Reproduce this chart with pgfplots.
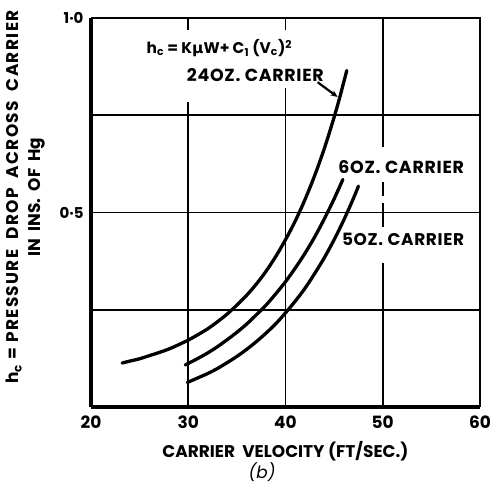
\documentclass[border=0pt]{standalone}
\usepackage{pgfplots}
\pgfplotsset{compat=1.18}
\usetikzlibrary{arrows.meta}
\usepackage{fontspec}
\setmainfont{Poppins}
\newfontfamily\dvs{DejaVu Sans}
\newfontfamily\lsf{Poppins}[LetterSpace=4]
\newfontfamily\lsfw{Poppins}[LetterSpace=8]

\pgfplotstableread{
V h
23.2 0.113
24.0 0.118
25.0 0.124
26.0 0.132
27.0 0.140
28.0 0.149
29.0 0.160
30.0 0.172
31.0 0.186
32.0 0.201
33.0 0.219
34.0 0.239
35.0 0.262
36.0 0.287
37.0 0.316
38.0 0.349
39.0 0.387
40.0 0.430
41.0 0.478
42.0 0.533
43.0 0.595
44.0 0.665
45.0 0.745
45.6 0.798
46.3 0.865
}\ozA

\pgfplotstableread{
V h
29.7 0.108
30.0 0.112
31.0 0.125
32.0 0.139
33.0 0.155
34.0 0.173
35.0 0.192
36.0 0.213
37.0 0.237
38.0 0.262
39.0 0.291
40.0 0.322
41.0 0.357
42.0 0.395
43.0 0.437
44.0 0.484
45.0 0.535
45.9 0.585
}\ozB

\pgfplotstableread{
V h
29.9 0.063
31.0 0.075
32.0 0.086
33.0 0.099
34.0 0.114
35.0 0.130
36.0 0.148
37.0 0.168
38.0 0.190
39.0 0.214
40.0 0.242
41.0 0.272
42.0 0.305
43.0 0.343
44.0 0.384
45.0 0.430
46.0 0.481
47.0 0.537
47.5 0.568
}\ozC

\begin{document}
\begin{tikzpicture}
\begin{axis}[
  name=ax, at={(0,0)}, anchor=south west,
  scale only axis, width=389bp, height=389bp,
  xmin=20, xmax=60, ymin=0, ymax=1,
  clip=false,
  axis line style={draw=none},
  tick style={draw=none},
  major tick length=0pt,
  xtick={20,30,40,50,60},
  xticklabels={20,30,40,50,60},
  ytick={0.5,1},
  yticklabels={0·5,1·0},
  /pgf/number format/assume math mode=true,
  xticklabel style={font=\bfseries\fontsize{17}{17}\selectfont, yshift=-5bp},
  yticklabel style={font=\bfseries\fontsize{15}{15}\selectfont, xshift=-4bp},
  xlabel={CARRIER\ \ VELOCITY\ (FT/SEC.)},
  xlabel style={font=\bfseries\fontsize{17}{17}\selectfont, at={([yshift=-44bp]rel axis cs:0.5,0)}, anchor=center},
  ylabel={{\lsfw\bfseries h\textsubscript{c} = PRESSURE\ \ DROP\ \ ACROSS\ \ CARRIER}\\IN\ \ INS.\ \ OF\ \ Hg},
  ylabel style={font=\bfseries\fontsize{17}{22}\selectfont, align=center, at={([xshift=-65bp]rel axis cs:0,0.54)}, anchor=center},
]
% grid lines
\begin{scope}[line width=1.8bp, black]
\draw (axis cs:20,0.25) -- (axis cs:60,0.25);
\draw (axis cs:20,0.5) -- (axis cs:60,0.5);
\draw (axis cs:20,0.75) -- (axis cs:60,0.75);
\draw (axis cs:30,0) -- (axis cs:30,0.784);
\draw (axis cs:30,0.969) -- (axis cs:30,1);
\draw (axis cs:40,0) -- (axis cs:40,0.82);
\draw (axis cs:40,0.969) -- (axis cs:40,1);
\draw (axis cs:50,0) -- (axis cs:50,0.370);
\draw (axis cs:50,0.463) -- (axis cs:50,0.524);
\draw (axis cs:50,0.542) -- (axis cs:50,0.578);
\draw (axis cs:50,0.668) -- (axis cs:50,1);
\end{scope}
% frame
\draw[line width=2bp] (axis cs:20,1) -- (axis cs:60,1) -- (axis cs:60,0);
\draw[line width=3.5bp] (axis cs:20,0) -- (axis cs:20,1);
\draw[line width=4bp] (axis cs:20,0) -- (axis cs:60,0);
% curves
\addplot[black, line width=3.3bp, line cap=round, smooth, no marks] table[x=V,y=h] {\ozA};
\addplot[black, line width=3.3bp, line cap=round, smooth, no marks] table[x=V,y=h] {\ozB};
\addplot[black, line width=3.3bp, line cap=round, smooth, no marks] table[x=V,y=h] {\ozC};
% annotations
\node[font=\bfseries\fontsize{15.5}{15.5}\selectfont, fill=white, inner sep=1bp] at (axis cs:33.2,0.922)
  {h\textsubscript{c} = K{\dvs\bfseries μ}W+ C\textsubscript{1} (V\textsubscript{c})\textsuperscript{2}};
\node[font=\lsf\bfseries\fontsize{17.5}{17.5}\selectfont, fill=white, inner sep=1bp] at (axis cs:36.9,0.853) {24OZ. CARRIER};
\draw[line width=2.2bp, -{Stealth[length=7bp,width=6bp]}] (axis cs:43.3,0.835) -- (axis cs:45.35,0.797);
\node[font=\lsf\bfseries\fontsize{17.5}{17.5}\selectfont] at (axis cs:51.9,0.617) {6OZ. CARRIER};
\node[font=\lsf\bfseries\fontsize{17}{17}\selectfont] at (axis cs:52.1,0.432) {5OZ. CARRIER};
\node[font=\itshape\fontsize{17}{17}\selectfont] at ([yshift=-65bp]axis cs:37.6,0) {(b)};
\end{axis}
\pgfresetboundingbox
\path (-91bp,-80bp) rectangle (399bp,407bp);
\end{tikzpicture}
\end{document}
